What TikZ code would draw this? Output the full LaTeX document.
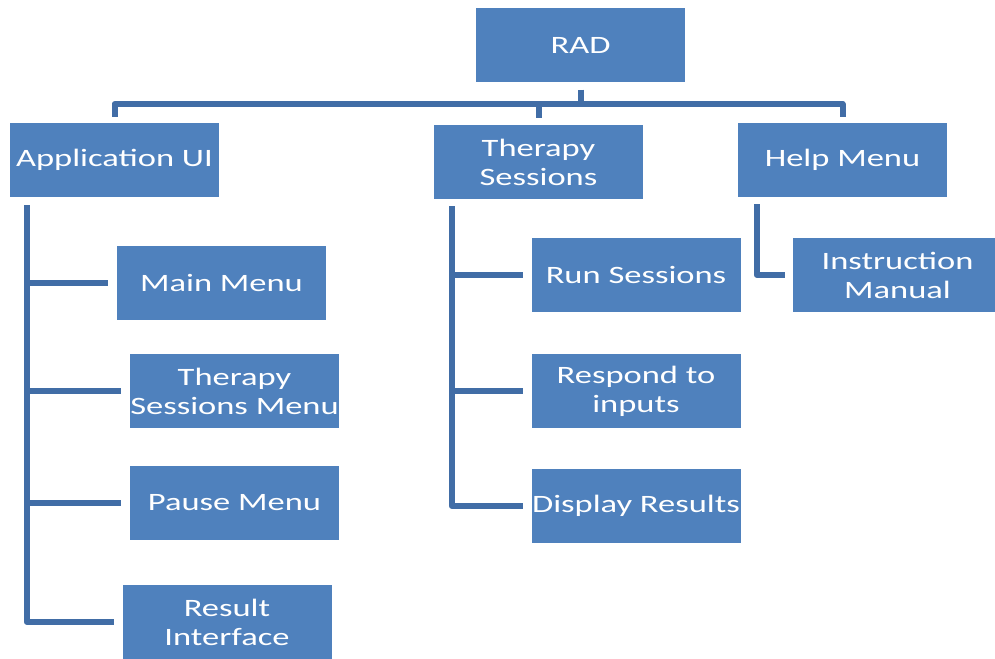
\documentclass[tikz,border=0pt]{standalone}
\usepackage{fontspec}
\setmainfont{Carlito}[FakeStretch=1.38]
\definecolor{boxblue}{HTML}{4F81BD}
\definecolor{linkblue}{HTML}{416DA6}
% one centred line that may run past the box edge without widening it
\newcommand\boxline[1]{\makebox[0pt]{#1}}

\begin{document}
\begin{tikzpicture}[x=1pt,y=-1pt,
  item/.style={fill=boxblue, minimum width=209pt, minimum height=74pt,
    inner sep=0pt, text=white, font=\fontsize{25}{29}\selectfont, align=center},
  conn/.style={draw=linkblue, line width=6pt, line join=round}]
\clip (0,0) rectangle (995,658);

% boxes
\node[item] (rad)   at (580.5,45.5) {\boxline{RAD}};
\node[item] (app)   at (114.5,160)  {\boxline{Application UI}};
\node[item] (ther)  at (538.5,162)  {\boxline{Therapy}\\\boxline{Sessions}};
\node[item] (help)  at (842.5,160)  {\boxline{Help Menu}};

\node[item] (mm)    at (221.5,283)  {\boxline{Main Menu}};
\node[item] (tsm)   at (234.5,391)  {\boxline{Therapy}\\\boxline{Sessions Menu}};
\node[item] (pause) at (234.5,502.5){\boxline{Pause Menu}};
\node[item] (res)   at (227,622)    {\boxline{Result}\\\boxline{Interface}};

\node[item] (run)   at (636,275)    {\boxline{Run Sessions}};
\node[item] (resp)  at (636,391)    {\boxline{Respond to}\\\boxline{inputs}};
\node[item] (disp)  at (636,506)    {\boxline{Display Results}};

\node[item] (instr) at (897.5,275)  {\boxline{Instruction}\\\boxline{Manual}};

% top level bar
\coordinate (bar) at (0,104);
\draw[conn] ([yshift=-7pt]rad.south) -- (rad.south |- bar);
\draw[conn] ([yshift=6pt]app.north) -- (app.north |- bar) -- (help.north |- bar) -- ([yshift=6pt]help.north);
\draw[conn] ([yshift=7pt]ther.north) -- (ther.north |- bar);

% application UI branch
\coordinate (lt) at ([xshift=17pt,yshift=-8pt]app.south west);
\foreach \c in {mm,tsm,pause,res}
  \draw[conn] (lt) |- ([xshift=-8.5pt]\c.west);

% therapy sessions branch
\coordinate (mt) at ([xshift=18pt,yshift=-7pt]ther.south west);
\foreach \c in {run,resp,disp}
  \draw[conn] (mt) |- ([xshift=-8pt]\c.west);

% help menu branch
\coordinate (ht) at ([xshift=19pt,yshift=-7pt]help.south west);
\draw[conn] (ht) |- ([xshift=-8pt]instr.west);
\end{tikzpicture}
\end{document}
